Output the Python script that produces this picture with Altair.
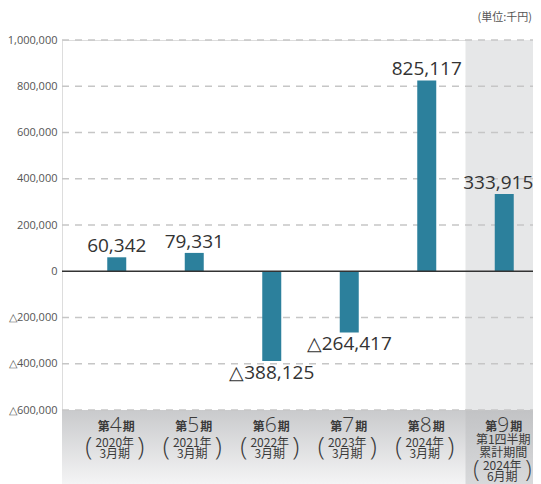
import altair as alt
import pandas as pd

# ---- data ----
cats = ["第4期", "第5期", "第6期", "第7期", "第8期", "第9期"]
values = [60342, 79331, -388125, -264417, 825117, 333915]
digits = ["4", "5", "6", "7", "8", "9"]
year_lines = ["2020年", "2021年", "2022年", "2023年", "2024年", "2024年"]
month_lines = ["3月期", "3月期", "3月期", "3月期", "3月期", "6月期"]
last_extra = ["第1四半期", "累計期間"]
tick_values = [-600000, -400000, -200000, 0, 200000, 400000, 600000, 800000, 1000000]
unit_text = "(単位:千円)"


def fmt(v):
    return ("△" if v < 0 else "") + format(abs(v), ",")


df = pd.DataFrame({
    "cat": cats,
    "value": values,
    "label": [fmt(v) for v in values],
    "digit": digits,
    "year": year_lines,
    "month": month_lines,
    "last": [c == cats[-1] for c in cats],
})
grid_df = pd.DataFrame({"v": [t for t in tick_values if t != 0]})
one = pd.DataFrame({"a": [0]})
extra_df = pd.DataFrame({"cat": [cats[-1]] * 2, "txt": last_extra, "row": [0, 1]})

W, H = 471, 370
BOT = 74
JP = "Noto Sans CJK JP"
NUM = "Open Sans"
TXT = "#3a3a3a"

x_enc = alt.X("cat:N", sort=cats,
              scale=alt.Scale(domain=cats, range=[16, 481], paddingInner=0, paddingOuter=0),
              axis=None)
base = alt.Chart(df)

col_rect = base.mark_rect(color="#e6e7e8").encode(
    x=x_enc, y=alt.value(0), y2=alt.value(H + BOT)
).transform_filter("datum.last")

bottom_band = alt.Chart(one).mark_rect(
    fill=alt.LinearGradient(gradient="linear", x1=0, y1=0, x2=0, y2=1,
                            stops=[alt.GradientStop(color="#c9cacc", offset=0),
                                   alt.GradientStop(color="#f4f4f5", offset=1)])
).encode(x=alt.value(0), x2=alt.value(W + 2), y=alt.value(H), y2=alt.value(H + BOT))

last_bottom = base.mark_rect(
    fill=alt.LinearGradient(gradient="linear", x1=0, y1=0, x2=0, y2=1,
                            stops=[alt.GradientStop(color="#c2c3c5", offset=0),
                                   alt.GradientStop(color="#d8d9db", offset=1)])
).encode(x=x_enc, y=alt.value(H), y2=alt.value(H + BOT)).transform_filter("datum.last")

y_scale = alt.Scale(domain=[-600000, 1000000], nice=False)
y_axis = alt.Axis(values=tick_values, grid=False, domain=False, ticks=False,
                  labelExpr="datum.value < 0 ? '△' + format(-datum.value, ',') : format(datum.value, ',')",
                  labelFontSize=11, labelColor="#555555", labelPadding=5,
                  labelFont=NUM, title=None)

grid = alt.Chart(grid_df).mark_rule(color="#c6c6c6", strokeWidth=1.3, strokeDash=[7, 6]).encode(
    y=alt.Y("v:Q", scale=y_scale, axis=y_axis), x=alt.value(0), x2=alt.value(W)
)

bars = base.mark_bar(size=19, color="#2c809c").encode(
    x=x_enc,
    y=alt.Y("value:Q", scale=y_scale, axis=y_axis),
)

zero = alt.Chart(one).mark_rule(color="#333333", strokeWidth=1.5).encode(
    y=alt.datum(0, type="quantitative"), x=alt.value(0), x2=alt.value(W)
)

pos_lab = base.mark_text(fontSize=19, font=NUM, color="#333333", baseline="alphabetic", dy=-5).encode(
    x=x_enc, y=alt.Y("value:Q"), text="label:N"
).transform_filter("datum.value >= 0 && !datum.last")

pos_lab_last = base.mark_text(fontSize=19, font=NUM, color="#333333", baseline="alphabetic",
                              dy=-5, dx=-6).encode(
    x=x_enc, y=alt.Y("value:Q"), text="label:N"
).transform_filter("datum.last")

neg_lab = base.mark_text(fontSize=19, font=NUM, color="#333333", baseline="top", dy=3).encode(
    x=x_enc, y=alt.Y("value:Q"), text="label:N"
).transform_filter("datum.value < 0")

units = alt.Chart(one).mark_text(fontSize=11, font=JP, color="#555555", align="right",
                                 baseline="middle").encode(
    x=alt.value(470), y=alt.value(-22), text=alt.value(unit_text))

# ---- category labels in bottom band ----
dai = base.mark_text(fontSize=12, font=JP, fontWeight="bold", color=TXT, align="right",
                     baseline="alphabetic", dx=-7).encode(x=x_enc, y=alt.value(391), text=alt.value("第"))
dig = base.mark_text(fontSize=21, font=NUM, fontWeight=300, color=TXT, align="center",
                     baseline="alphabetic", dx=-1).encode(x=x_enc, y=alt.value(392), text="digit:N")
ki = base.mark_text(fontSize=12, font=JP, fontWeight="bold", color=TXT, align="left",
                    baseline="alphabetic", dx=6).encode(x=x_enc, y=alt.value(391), text=alt.value("期"))

main = base.transform_filter("!datum.last")
lastc = base.transform_filter("datum.last")


def line_layer(src, field, ypix, dx=-2):
    return src.mark_text(fontSize=12, font=JP, color=TXT, baseline="middle", dx=dx).encode(
        x=x_enc, y=alt.value(ypix), text=f"{field}:N")


def paren_layer(src, ch, ypix, dx, size=26):
    return src.mark_text(fontSize=size, font=NUM, fontWeight=300, color=TXT, baseline="middle",
                         dx=dx).encode(x=x_enc, y=alt.value(ypix), text=alt.value(ch))


m_year = line_layer(main, "year", 403)
m_month = line_layer(main, "month", 414)
m_lp = paren_layer(main, "(", 407, -28)
m_rp = paren_layer(main, ")", 407, 24)

l_year = line_layer(lastc, "year", 426)
l_month = line_layer(lastc, "month", 437)
l_lp = paren_layer(lastc, "(", 430, -28, 23)
l_rp = paren_layer(lastc, ")", 430, 24, 23)

ex0 = alt.Chart(extra_df).mark_text(fontSize=12, font=JP, color=TXT, baseline="middle", dx=-1).encode(
    x=x_enc, y=alt.value(400), text="txt:N").transform_filter("datum.row == 0")
ex1 = alt.Chart(extra_df).mark_text(fontSize=12, font=JP, color=TXT, baseline="middle", dx=-1).encode(
    x=x_enc, y=alt.value(413), text="txt:N").transform_filter("datum.row == 1")

chart = alt.layer(
    col_rect, bottom_band, last_bottom, grid, bars, zero, pos_lab, pos_lab_last, neg_lab, units,
    dai, dig, ki, m_year, m_month, m_lp, m_rp, l_year, l_month, l_lp, l_rp, ex0, ex1
).properties(
    width=W, height=H,
    autosize=alt.AutoSizeParams(type="none"),
    padding={"left": 54, "top": 32, "right": 0, "bottom": BOT},
).configure_view(stroke=None).configure(background="white")

chart.save("out.html", embed_options={"renderer": "svg", "actions": False})
